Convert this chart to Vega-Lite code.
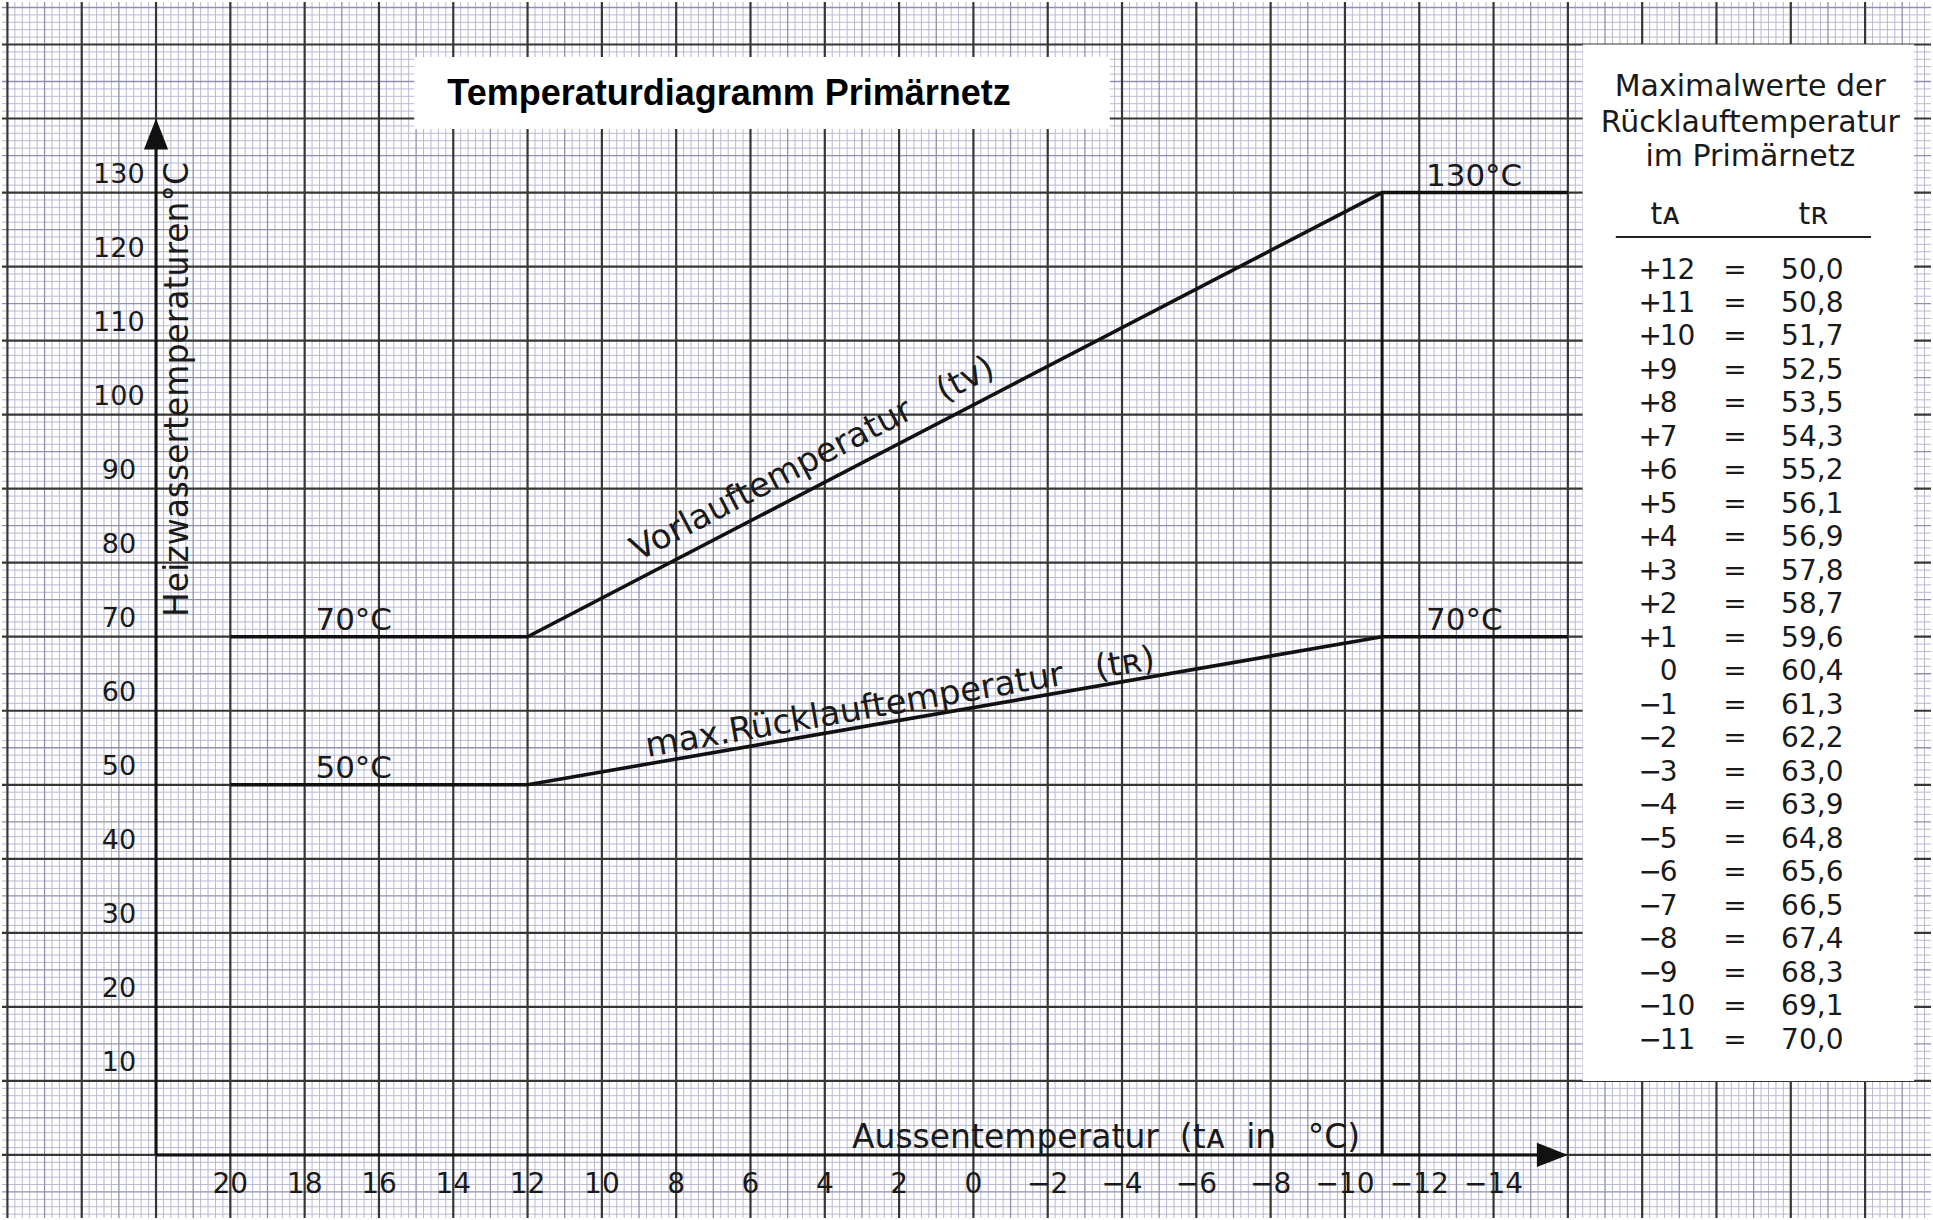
{
  "$schema": "https://vega.github.io/schema/vega-lite/v6.json",
  "width": 1933,
  "height": 1220,
  "autosize": {"type": "fit", "contains": "padding"},
  "padding": 0,
  "background": "white",
  "config": {
    "view": {"stroke": null},
    "locale": {"number": {"decimal": ",", "thousands": ".", "grouping": [3], "currency": ["", " €"]}}
  },
  "datasets": {
    "vfine": [-25.6,-25.4,-25.2,-24.8,-24.6,-24.4,-24.2,-23.8,-23.6,-23.4,-23.2,-22.8,-22.6,-22.4,-22.2,-21.8,-21.6,-21.4,-21.2,-20.8,-20.6,-20.4,-20.2,-19.8,-19.6,-19.4,-19.2,-18.8,-18.6,-18.4,-18.2,-17.8,-17.6,-17.4,-17.2,-16.8,-16.6,-16.4,-16.2,-15.8,-15.6,-15.4,-15.2,-14.8,-14.6,-14.4,-14.2,-13.8,-13.6,-13.4,-13.2,-12.8,-12.6,-12.4,-12.2,-11.8,-11.6,-11.4,-11.2,-10.8,-10.6,-10.4,-10.2,-9.8,-9.6,-9.4,-9.2,-8.8,-8.6,-8.4,-8.2,-7.8,-7.6,-7.4,-7.2,-6.8,-6.6,-6.4,-6.2,-5.8,-5.6,-5.4,-5.2,-4.8,-4.6,-4.4,-4.2,-3.8,-3.6,-3.4,-3.2,-2.8,-2.6,-2.4,-2.2,-1.8,-1.6,-1.4,-1.2,-0.8,-0.6,-0.4,-0.2,0.2,0.4,0.6,0.8,1.2,1.4,1.6,1.8,2.2,2.4,2.6,2.8,3.2,3.4,3.6,3.8,4.2,4.4,4.6,4.8,5.2,5.4,5.6,5.8,6.2,6.4,6.6,6.8,7.2,7.4,7.6,7.8,8.2,8.4,8.6,8.8,9.2,9.4,9.6,9.8,10.2,10.4,10.6,10.8,11.2,11.4,11.6,11.8,12.2,12.4,12.6,12.8,13.2,13.4,13.6,13.8,14.2,14.4,14.6,14.8,15.2,15.4,15.6,15.8,16.2,16.4,16.6,16.8,17.2,17.4,17.6,17.8,18.2,18.4,18.6,18.8,19.2,19.4,19.6,19.8,20.2,20.4,20.6,20.8,21.2,21.4,21.6,21.8,22.2,22.4,22.6,22.8,23.2,23.4,23.6,23.8,24.2,24.4,24.6,24.8,25.2,25.4,25.6,25.8],
    "hfine": [-8,-7,-6,-4,-3,-2,-1,1,2,3,4,6,7,8,9,11,12,13,14,16,17,18,19,21,22,23,24,26,27,28,29,31,32,33,34,36,37,38,39,41,42,43,44,46,47,48,49,51,52,53,54,56,57,58,59,61,62,63,64,66,67,68,69,71,72,73,74,76,77,78,79,81,82,83,84,86,87,88,89,91,92,93,94,96,97,98,99,101,102,103,104,106,107,108,109,111,112,113,114,116,117,118,119,121,122,123,124,126,127,128,129,131,132,133,134,136,137,138,139,141,142,143,144,146,147,148,149,151,152,153,154],
    "vmed": [-25,-23,-21,-19,-17,-15,-13,-11,-9,-7,-5,-3,-1,1,3,5,7,9,11,13,15,17,19,21,23,25],
    "vmaj": [-24,-22,-20,-18,-16,-14,-12,-10,-8,-6,-4,-2,0,2,4,6,8,10,12,14,16,18,20,22,24,26],
    "hmed": [-5,5,15,25,35,45,55,65,75,85,95,105,115,125,135,145,155],
    "hmaj": [0,10,20,30,40,50,60,70,80,90,100,110,120,130,140,150],
    "boxes": [{"x":15.05,"x2":-3.67,"y":138.6,"y2":148.3},{"x":-16.4,"x2":-25.32,"y":10,"y2":150}],
    "curves": [
      {"s":"tv","ta":20,"t":70},{"s":"tv","ta":12,"t":70},{"s":"tv","ta":-11,"t":130},{"s":"tv","ta":-16,"t":130},
      {"s":"tr","ta":20,"t":50},{"s":"tr","ta":12,"t":50},{"s":"tr","ta":-11,"t":70},{"s":"tr","ta":-16,"t":70}
    ],
    "axislines": [
      {"x":22,"x2":22,"y":0,"y2":136},
      {"x":22,"x2":-15.3,"y":0,"y2":0},
      {"x":-11,"x2":-11,"y":0,"y2":130}
    ],
    "arrows": [{"x":22,"y":140,"dir":"up"},{"x":-16,"y":0,"dir":"right"}],
    "ylabels": [10,20,30,40,50,60,70,80,90,100,110,120,130],
    "xlabels": [20,18,16,14,12,10,8,6,4,2,0,-2,-4,-6,-8,-10,-12,-14],
    "levels": [
      {"x":17.71,"y":70,"text":"70°C"},
      {"x":17.71,"y":50,"text":"50°C"},
      {"x":-12.18,"y":130,"text":"130°C"},
      {"x":-12.18,"y":70,"text":"70°C"}
    ],
    "tablehead": [
      {"x":-20.91,"y":143.09,"text":"Maximalwerte der"},
      {"x":-20.91,"y":138.15,"text":"Rücklauftemperatur"},
      {"x":-20.91,"y":133.53,"text":"im Primärnetz"},
      {"x":-18.62,"y":125.76,"text":"tᴀ"},
      {"x":-22.61,"y":125.76,"text":"tʀ"}
    ],
    "table": [
      {"tA":12,"sign":"+","num":"12","tR":50.0},
      {"tA":11,"sign":"+","num":"11","tR":50.8},
      {"tA":10,"sign":"+","num":"10","tR":51.7},
      {"tA":9,"sign":"+","num":"9","tR":52.5},
      {"tA":8,"sign":"+","num":"8","tR":53.5},
      {"tA":7,"sign":"+","num":"7","tR":54.3},
      {"tA":6,"sign":"+","num":"6","tR":55.2},
      {"tA":5,"sign":"+","num":"5","tR":56.1},
      {"tA":4,"sign":"+","num":"4","tR":56.9},
      {"tA":3,"sign":"+","num":"3","tR":57.8},
      {"tA":2,"sign":"+","num":"2","tR":58.7},
      {"tA":1,"sign":"+","num":"1","tR":59.6},
      {"tA":0,"sign":"","num":"0","tR":60.4},
      {"tA":-1,"sign":"−","num":"1","tR":61.3},
      {"tA":-2,"sign":"−","num":"2","tR":62.2},
      {"tA":-3,"sign":"−","num":"3","tR":63.0},
      {"tA":-4,"sign":"−","num":"4","tR":63.9},
      {"tA":-5,"sign":"−","num":"5","tR":64.8},
      {"tA":-6,"sign":"−","num":"6","tR":65.6},
      {"tA":-7,"sign":"−","num":"7","tR":66.5},
      {"tA":-8,"sign":"−","num":"8","tR":67.4},
      {"tA":-9,"sign":"−","num":"9","tR":68.3},
      {"tA":-10,"sign":"−","num":"10","tR":69.1},
      {"tA":-11,"sign":"−","num":"11","tR":70.0}
    ]
  },
  "layer": [
    {
      "layer": [
        {
          "data": {"name": "vfine"},
          "mark": {"type": "rule", "color": "#b9b9d3", "strokeWidth": 1},
          "encoding": {
            "x": {"field": "data", "type": "quantitative", "axis": null,
                  "scale": {"domain": [-25.774, 26.146], "reverse": true, "nice": false, "zero": false}}
          }
        },
        {
          "data": {"name": "hfine"},
          "mark": {"type": "rule", "color": "#b9b9d3", "strokeWidth": 1},
          "encoding": {
            "y": {"field": "data", "type": "quantitative", "axis": null,
                  "scale": {"domain": [-8.52, 155.74], "nice": false, "zero": false}}
          }
        },
        {
          "data": {"name": "vmed"},
          "mark": {"type": "rule", "color": "#9090ae", "strokeWidth": 1.3},
          "encoding": {"x": {"field": "data", "type": "quantitative", "axis": null}}
        },
        {
          "data": {"name": "hmed"},
          "mark": {"type": "rule", "color": "#9090ae", "strokeWidth": 1.3},
          "encoding": {"y": {"field": "data", "type": "quantitative", "axis": null}}
        },
        {
          "data": {"name": "vmaj"},
          "mark": {"type": "rule", "color": "#363636", "strokeWidth": 2.2},
          "encoding": {"x": {"field": "data", "type": "quantitative", "axis": null}}
        },
        {
          "data": {"name": "hmaj"},
          "mark": {"type": "rule", "color": "#363636", "strokeWidth": 2.2},
          "encoding": {"y": {"field": "data", "type": "quantitative", "axis": null}}
        },
        {
          "data": {"name": "boxes"},
          "mark": {"type": "rect", "fill": "white", "stroke": null},
          "encoding": {
            "x": {"field": "x", "type": "quantitative", "axis": null},
            "x2": {"field": "x2"},
            "y": {"field": "y", "type": "quantitative", "axis": null},
            "y2": {"field": "y2"}
          }
        },
        {
          "data": {"name": "curves"},
          "mark": {"type": "line", "color": "#111111", "strokeWidth": 3.6},
          "encoding": {
            "x": {"field": "ta", "type": "quantitative", "axis": null},
            "y": {"field": "t", "type": "quantitative", "axis": null},
            "detail": {"field": "s"}
          }
        },
        {
          "data": {"name": "axislines"},
          "mark": {"type": "rule", "color": "#111111", "strokeWidth": 3},
          "encoding": {
            "x": {"field": "x", "type": "quantitative", "axis": null},
            "x2": {"field": "x2"},
            "y": {"field": "y", "type": "quantitative", "axis": null},
            "y2": {"field": "y2"}
          }
        },
        {
          "data": {"name": "arrows"},
          "mark": {"type": "point", "filled": true, "color": "#111111", "size": 3844, "opacity": 1},
          "encoding": {
            "x": {"field": "x", "type": "quantitative", "axis": null},
            "y": {"field": "y", "type": "quantitative", "axis": null},
            "shape": {"field": "dir", "type": "nominal", "legend": null,
                      "scale": {"domain": ["up", "right"], "range": ["M0,0L-0.39,1L0.39,1Z", "M0,0L-1,-0.39L-1,0.39Z"]}}
          }
        },
        {
          "data": {"name": "ylabels"},
          "mark": {"type": "text", "font": "DejaVu Sans", "fontSize": 27, "color": "#1a1a1a", "align": "center", "baseline": "alphabetic", "dy": -9.5},
          "encoding": {
            "x": {"datum": 23, "axis": null},
            "y": {"field": "data", "type": "quantitative", "axis": null},
            "text": {"field": "data", "type": "quantitative", "format": "d"}
          }
        },
        {
          "data": {"name": "xlabels"},
          "mark": {"type": "text", "font": "DejaVu Sans", "fontSize": 28, "color": "#1a1a1a", "align": "center", "baseline": "alphabetic", "dy": 38},
          "encoding": {
            "x": {"field": "data", "type": "quantitative", "axis": null},
            "y": {"datum": 0, "axis": null},
            "text": {"field": "data", "type": "quantitative", "format": "d"}
          }
        },
        {
          "data": {"name": "levels"},
          "mark": {"type": "text", "font": "DejaVu Sans", "fontSize": 31, "color": "#1a1a1a", "align": "left", "baseline": "alphabetic", "dy": -7},
          "encoding": {
            "x": {"field": "x", "type": "quantitative", "axis": null},
            "y": {"field": "y", "type": "quantitative", "axis": null},
            "text": {"field": "text"}
          }
        },
        {
          "data": {"values": [{"x": 3.27, "y": 0.9, "text": "Aussentemperatur\u00a0\u00a0(tᴀ\u00a0\u00a0in\u00a0\u00a0\u00a0°C)"}]},
          "mark": {"type": "text", "font": "DejaVu Sans", "fontSize": 33, "color": "#1a1a1a", "align": "left", "baseline": "alphabetic"},
          "encoding": {
            "x": {"field": "x", "type": "quantitative", "axis": null},
            "y": {"field": "y", "type": "quantitative", "axis": null},
            "text": {"field": "text"}
          }
        },
        {
          "data": {"values": [{"x": 21.13, "y": 103.4, "text": "Heizwassertemperaturen°C"}]},
          "mark": {"type": "text", "font": "DejaVu Sans", "fontSize": 33, "color": "#1a1a1a", "align": "center", "baseline": "alphabetic", "angle": 270},
          "encoding": {
            "x": {"field": "x", "type": "quantitative", "axis": null},
            "y": {"field": "y", "type": "quantitative", "axis": null},
            "text": {"field": "text"}
          }
        },
        {
          "data": {"values": [{"x": 4.0, "y": 90.87, "text": "Vorlauftemperatur\u00a0\u00a0\u00a0(tv)"}]},
          "mark": {"type": "text", "font": "DejaVu Sans", "fontSize": 34, "color": "#1a1a1a", "align": "center", "baseline": "alphabetic", "angle": 332.5, "dy": -16},
          "encoding": {
            "x": {"field": "x", "type": "quantitative", "axis": null},
            "y": {"field": "y", "type": "quantitative", "axis": null},
            "text": {"field": "text"}
          }
        },
        {
          "data": {"values": [{"x": 1.89, "y": 58.79, "text": "max.Rücklauftemperatur\u00a0\u00a0\u00a0(tʀ)"}]},
          "mark": {"type": "text", "font": "DejaVu Sans", "fontSize": 34, "color": "#1a1a1a", "align": "center", "baseline": "alphabetic", "angle": 350.16, "dy": -7},
          "encoding": {
            "x": {"field": "x", "type": "quantitative", "axis": null},
            "y": {"field": "y", "type": "quantitative", "axis": null},
            "text": {"field": "text"}
          }
        },
        {
          "data": {"values": [{"x": 14.16, "y": 141.8, "text": "Temperaturdiagramm Primärnetz"}]},
          "mark": {"type": "text", "font": "Liberation Sans", "fontWeight": "bold", "fontSize": 36, "color": "#000000", "align": "left", "baseline": "alphabetic"},
          "encoding": {
            "x": {"field": "x", "type": "quantitative", "axis": null},
            "y": {"field": "y", "type": "quantitative", "axis": null},
            "text": {"field": "text"}
          }
        },
        {
          "data": {"name": "tablehead"},
          "mark": {"type": "text", "font": "DejaVu Sans", "fontSize": 30, "color": "#1a1a1a", "align": "center", "baseline": "alphabetic"},
          "encoding": {
            "x": {"field": "x", "type": "quantitative", "axis": null},
            "y": {"field": "y", "type": "quantitative", "axis": null},
            "text": {"field": "text"}
          }
        },
        {
          "data": {"values": [{"x": -17.29, "x2": -24.16, "y": 124.0}]},
          "mark": {"type": "rule", "color": "#222222", "strokeWidth": 2},
          "encoding": {
            "x": {"field": "x", "type": "quantitative", "axis": null},
            "x2": {"field": "x2"},
            "y": {"field": "y", "type": "quantitative", "axis": null}
          }
        }
      ]
    },
    {
      "data": {"name": "table"},
      "layer": [
        {
          "mark": {"type": "text", "font": "DejaVu Sans", "fontSize": 28, "color": "#1a1a1a", "align": "left", "baseline": "middle"},
          "encoding": {
            "x": {"datum": -17.9, "axis": null},
            "y": {"field": "tA", "type": "quantitative", "axis": null, "scale": {"domain": [12, -11], "range": [268.5, 1038.5], "nice": false, "zero": false}},
            "text": {"field": "sign"}
          }
        },
        {
          "mark": {"type": "text", "font": "DejaVu Sans", "fontSize": 28, "color": "#1a1a1a", "align": "left", "baseline": "middle"},
          "encoding": {
            "x": {"datum": -18.47, "axis": null},
            "y": {"field": "tA", "type": "quantitative", "axis": null},
            "text": {"field": "num"}
          }
        },
        {
          "mark": {"type": "text", "font": "DejaVu Sans", "fontSize": 28, "color": "#1a1a1a", "align": "center", "baseline": "middle", "text": "="},
          "encoding": {
            "x": {"datum": -20.5, "axis": null},
            "y": {"field": "tA", "type": "quantitative", "axis": null}
          }
        },
        {
          "mark": {"type": "text", "font": "DejaVu Sans", "fontSize": 28, "color": "#1a1a1a", "align": "left", "baseline": "middle"},
          "encoding": {
            "x": {"datum": -21.74, "axis": null},
            "y": {"field": "tA", "type": "quantitative", "axis": null},
            "text": {"field": "tR", "type": "quantitative", "format": ".1f"}
          }
        }
      ]
    }
  ],
  "resolve": {"scale": {"y": "independent"}}
}
